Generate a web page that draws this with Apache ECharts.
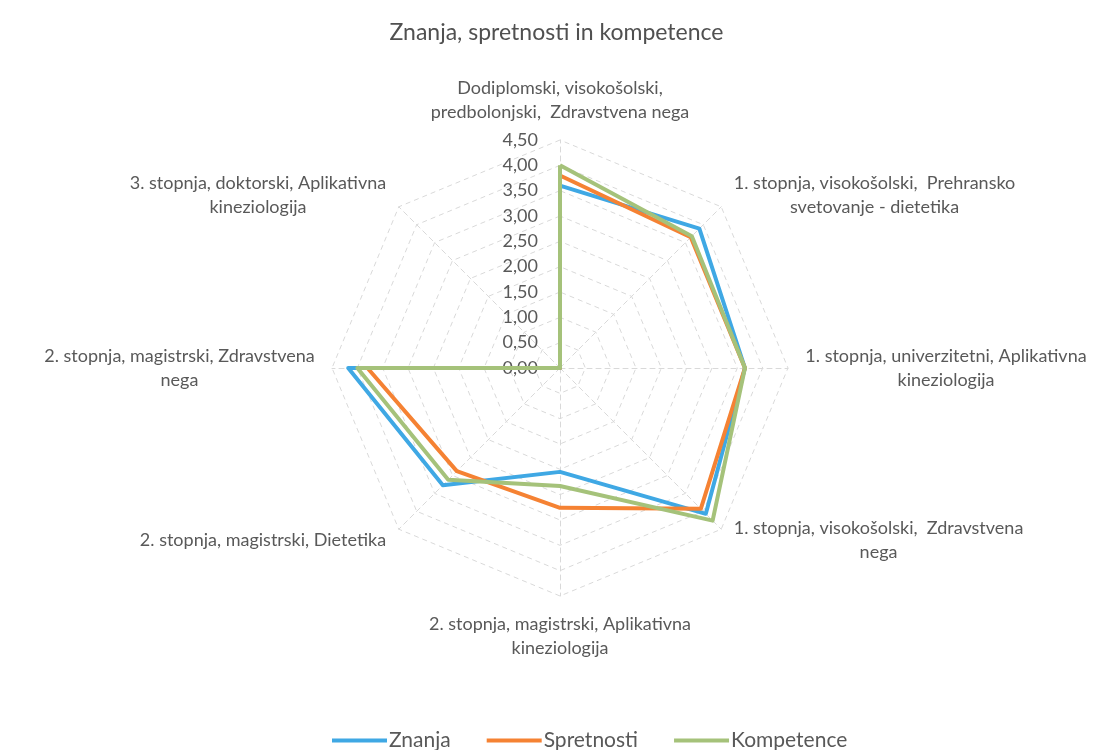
<!DOCTYPE html>
<html>
<head>
<meta charset="utf-8">
<script src="https://cdn.jsdelivr.net/npm/echarts@6/dist/echarts.min.js"></script>
<style>
  html, body { margin: 0; padding: 0; background: #fff; }
  #chart { width: 1113px; height: 750px; }
</style>
</head>
<body>
<div id="chart"></div>
<script>
// osi (v smeri kot ECharts - proti urinemu kazalcu, zacetek zgoraj)
let axes = [
    'Dodiplomski, visokošolski,\npredbolonjski,  Zdravstvena nega',
    '3. stopnja, doktorski, Aplikativna\nkineziologija',
    '2. stopnja, magistrski, Zdravstvena\nnega',
    '2. stopnja, magistrski, Dietetika',
    '2. stopnja, magistrski, Aplikativna\nkineziologija',
    '1. stopnja, visokošolski,  Zdravstvena\nnega',
    '1. stopnja, univerzitetni, Aplikativna\nkineziologija',
    '1. stopnja, visokošolski,  Prehransko\nsvetovanje - dietetika'
];
let seriesNames = ['Znanja', 'Spretnosti', 'Kompetence'];
let znanja     = [3.60, 0, 4.18, 3.27, 2.05, 4.07, 3.65, 3.89];
let spretnosti = [3.80, 0, 3.80, 2.88, 2.76, 3.93, 3.65, 3.65];
let kompetence = [4.00, 0, 4.00, 3.12, 2.33, 4.26, 3.65, 3.68];
let colors = ['#3fa8e4', '#f58233', '#a5c27a'];

let chart = echarts.init(document.getElementById('chart'));
let font = 'Lato, "Open Sans", sans-serif';
let nameSize = 18;
let center = [560, 368];
let radius = 228;

// vrstice v imenih osi so sredinsko poravnane (kot v Excelu)
let ctx = document.createElement('canvas').getContext('2d');
ctx.font = nameSize + 'px ' + font;
let rich = {};
axes.forEach(function (n, i) {
    let w = Math.max.apply(null, n.split('\n').map(function (l) { return ctx.measureText(l).width; }));
    rich['n' + i] = { width: Math.ceil(w) + 2, align: 'center', color: '#595959', fontSize: nameSize, fontFamily: font, lineHeight: 24 };
});

chart.setOption({
    color: colors,
    textStyle: { fontFamily: font },
    title: {
        text: 'Znanja, spretnosti in kompetence',
        left: 'center', top: 16,
        textStyle: { fontFamily: font, fontSize: 23, fontWeight: 'normal', color: '#505050' }
    },
    legend: {
        top: 725, left: 327,
        icon: 'rect', itemWidth: 55, itemHeight: 4, itemGap: 36,
        textStyle: { fontFamily: font, fontSize: 21, color: '#595959', padding: [0, 0, 0, -3] },
        data: seriesNames
    },
    radar: {
        center: center, radius: radius,
        shape: 'polygon',
        splitNumber: 9,
        axisName: {
            color: '#595959', fontSize: nameSize, fontFamily: font, lineHeight: 24,
            rich: rich,
            formatter: function (name) {
                let i = axes.indexOf(name);
                return name.split('\n').map(function (l) { return '{n' + i + '|' + l + '}'; }).join('\n');
            }
        },
        nameGap: 16,
        axisLine: { lineStyle: { color: '#d9d9d9', type: [5, 4] } },
        splitLine: { lineStyle: { color: '#d9d9d9', type: [5, 4] } },
        splitArea: { show: false },
        indicator: axes.map(function (n) { return { name: n, min: 0, max: 4.5 }; })
    },
    polar: { center: center, radius: radius },
    angleAxis: { show: false, startAngle: 90, min: 0, max: 360 },
    radiusAxis: {
        min: 0, max: 4.5, interval: 0.5,
        axisLine: { show: false }, axisTick: { show: false }, splitLine: { show: false },
        axisLabel: {
            color: '#595959', fontSize: 18, fontFamily: font, margin: 22,
            formatter: function (v) { return v.toFixed(2).replace('.', ','); }
        }
    },
    series: [{
        type: 'radar',
        symbol: 'none',
        lineStyle: { width: 4 },
        data: [
            { name: seriesNames[0], value: znanja, lineStyle: { color: colors[0] } },
            { name: seriesNames[1], value: spretnosti, lineStyle: { color: colors[1] } },
            { name: seriesNames[2], value: kompetence, lineStyle: { color: colors[2] } }
        ]
    }]
});
</script>
</body>
</html>
